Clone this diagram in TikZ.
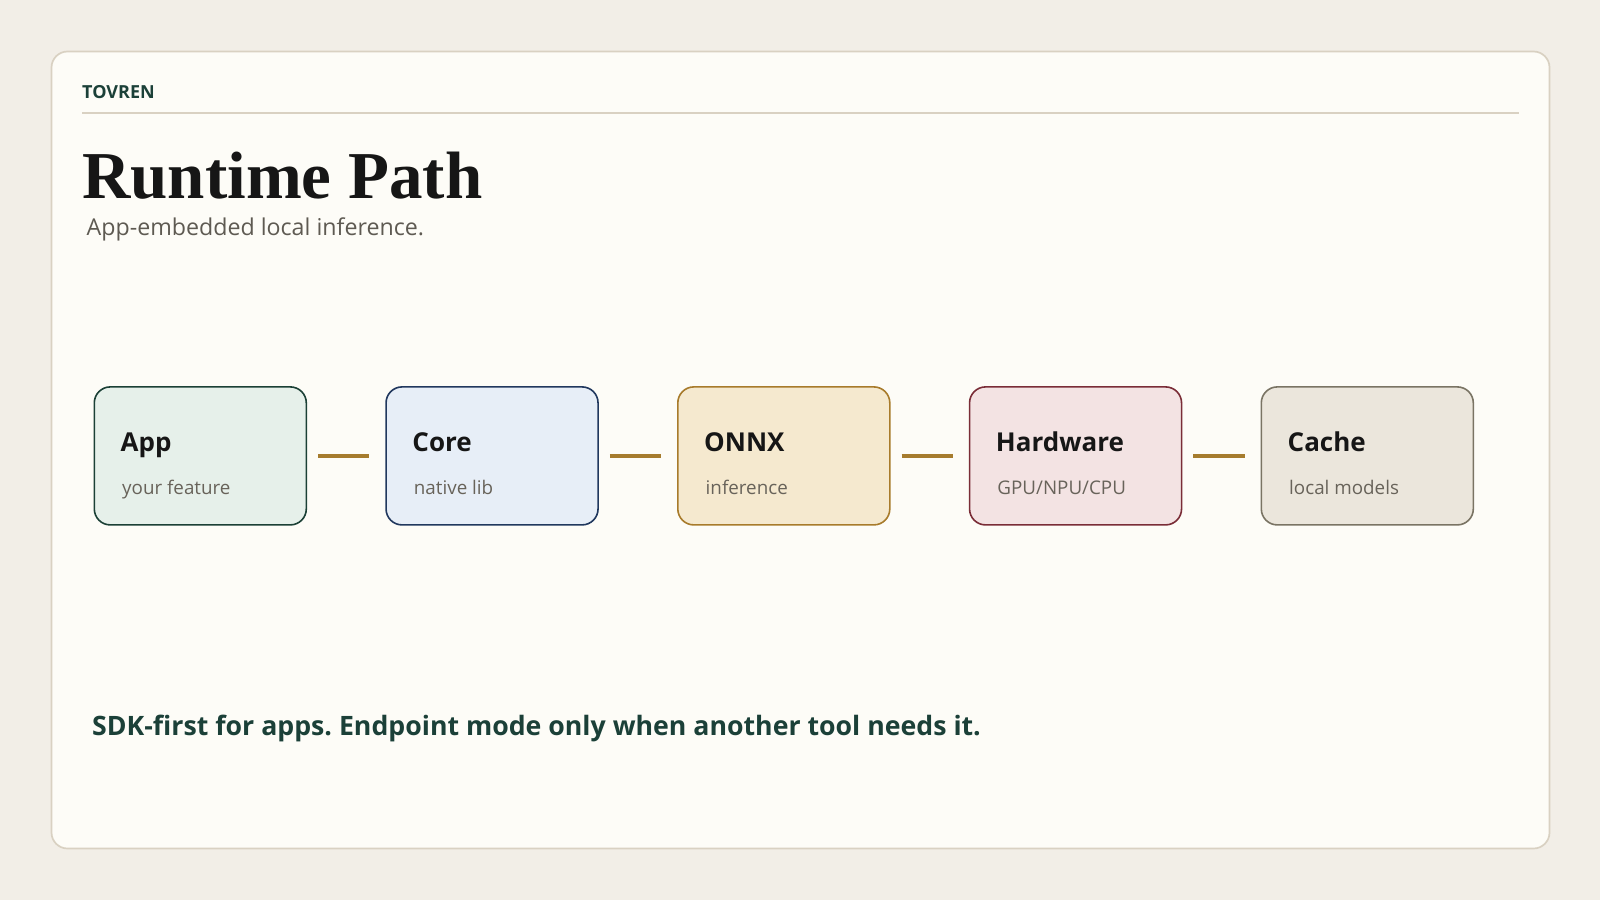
\documentclass[tikz,border=0pt]{standalone}
\usepackage{fontspec}
\setmainfont{Open Sans}
\newfontfamily\titlefont{Liberation Serif}
\definecolor{outerbg}{HTML}{F2EEE7}
\definecolor{cardbg}{HTML}{FDFCF7}
\definecolor{cardline}{HTML}{D9D1C2}
\definecolor{ink}{HTML}{161616}
\definecolor{brand}{HTML}{1B4038}
\definecolor{subtxt}{HTML}{5E5A52}
\definecolor{boxsub}{HTML}{68635A}
\definecolor{conn}{HTML}{A67C2E}
\definecolor{appfill}{HTML}{E6F0EA}\definecolor{appline}{HTML}{1B4036}
\definecolor{corefill}{HTML}{E7EEF7}\definecolor{coreline}{HTML}{21385E}
\definecolor{onnxfill}{HTML}{F5E9CF}\definecolor{onnxline}{HTML}{A87B2B}
\definecolor{hwfill}{HTML}{F3E3E3}\definecolor{hwline}{HTML}{7A2D37}
\definecolor{cachefill}{HTML}{EBE6DC}\definecolor{cacheline}{HTML}{7A7464}
\tikzset{
  stagebox/.style={draw, line width=1.6pt, rounded corners=16pt, minimum width=212pt, minimum height=138pt, anchor=north west, inner sep=0pt},
  stagetitle/.style={anchor=base west, inner sep=0pt, text=ink, font=\fontsize{26}{30}\selectfont\bfseries},
  stagesub/.style={anchor=base west, inner sep=0pt, text=boxsub, font=\fontsize{18.8}{22}\selectfont},
  link/.style={draw=conn, line width=4pt},
}
\frenchspacing
\begin{document}
\begin{tikzpicture}[x=1pt,y=-1pt]
\useasboundingbox (0,0) rectangle (1600,900);
\fill[outerbg] (0,0) rectangle (1600,900);
\draw[cardline, fill=cardbg, line width=1.7pt, rounded corners=16pt] (51.5,51.5) rectangle (1549.5,848.5);
\node[anchor=base west, inner sep=0pt, text=brand, font=\fontsize{18}{22}\selectfont\bfseries] (brandname) at (82,98.3) {TOVREN};
\draw[cardline, line width=2pt] (82,112.7) -- (1518.7,112.7);
\node[anchor=base west, inner sep=0pt, text=ink, font=\titlefont\fontsize{67}{72}\selectfont\bfseries] (title) at (82,198) {Runtime Path};
\node[anchor=base west, inner sep=0pt, text=subtxt, font=\fontsize{23.2}{27}\selectfont] (subtitle) at (86.5,235) {App-embedded local inference.};

\foreach \i/\nm/\ttl/\sub/\fc/\lc in {0/app/App/your feature/appfill/appline,
  1/core/Core/native lib/corefill/coreline,
  2/onnx/ONNX/inference/onnxfill/onnxline,
  3/hw/Hardware/GPU\slash NPU\slash CPU/hwfill/hwline,
  4/cache/Cache/local models/cachefill/cacheline}{
  \node[stagebox, fill=\fc, draw=\lc] (\nm) at (93.5+\i*291.75,386.1) {};
  \node[stagetitle] (\nm-t) at ([xshift=27pt,yshift=-65.6pt]\nm.north west) {\ttl};
  \node[stagesub] (\nm-s) at ([xshift=28.5pt,yshift=-108.2pt]\nm.north west) {\sub};
}
\foreach \a/\b in {app/core, core/onnx, onnx/hw, hw/cache}{
  \draw[link] ([xshift=11pt]\a.east) -- ([xshift=-16pt]\b.west);
}
\node[anchor=base west, inner sep=0pt, text=brand, font=\fontsize{26.7}{31}\selectfont\bfseries] (note) at (92,735.7) {SDK-first for apps. Endpoint mode only when another tool needs it.};
\end{tikzpicture}
\end{document}
